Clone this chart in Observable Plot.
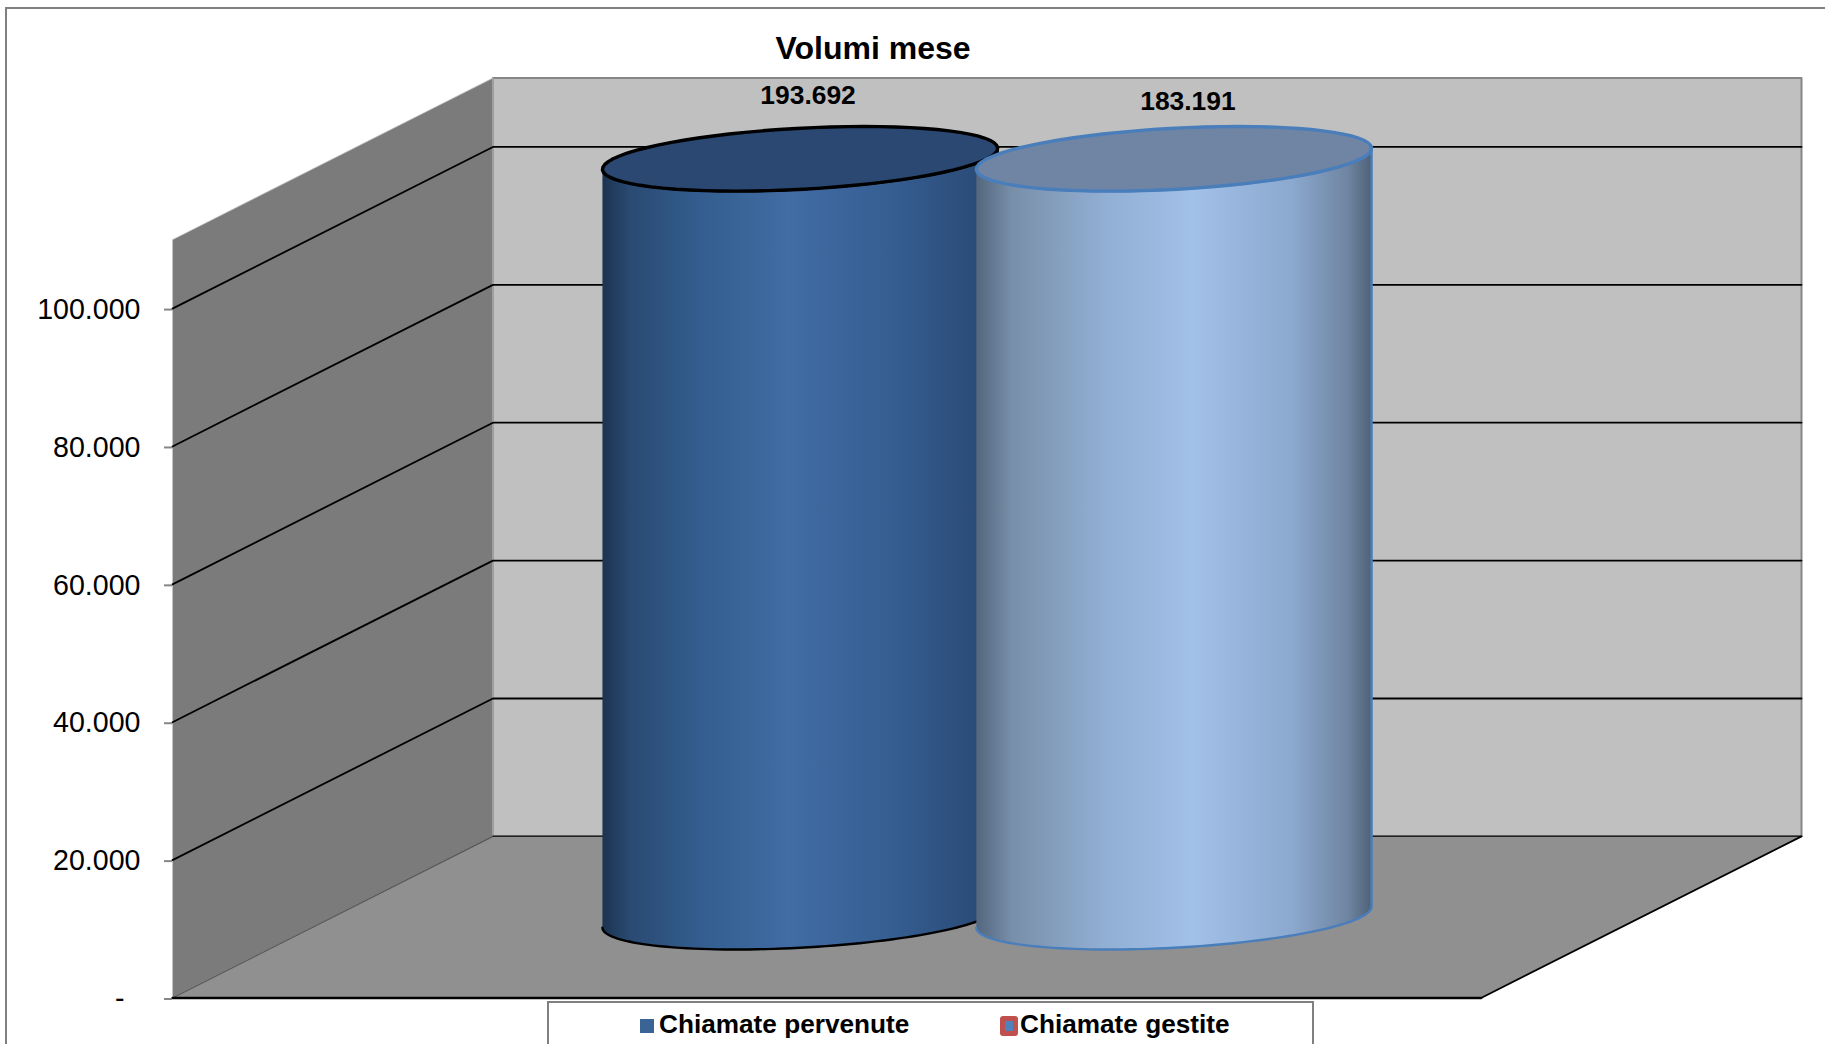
<!DOCTYPE html>
<html lang="it">
<head>
<meta charset="utf-8">
<title>Volumi mese</title>
<script src="https://cdn.jsdelivr.net/npm/d3@7"></script>
<script src="https://cdn.jsdelivr.net/npm/@observablehq/plot@0.6"></script>
<style>
  html, body { margin: 0; padding: 0; background: #fff; overflow: hidden; }
  #chart { position: relative; width: 1825px; height: 1044px; font-family: "Liberation Sans", Arial, sans-serif; color: #000; overflow: hidden; }
  #chart svg { position: absolute; left: 0; top: 0; }
  #frame { position: absolute; left: 5px; top: 7px; width: 1830px; height: 1060px; border: 2px solid #808080; box-sizing: border-box; }
  h1 { position: absolute; left: 0; top: 29px; width: 1746px; margin: 0; text-align: center; font-size: 32px; line-height: 38px; font-weight: bold; }
  #legend { position: absolute; left: 547px; top: 1001px; width: 767px; height: 70px; box-sizing: border-box; border: 2px solid #808080; background: #fff; }
  #legend span { position: absolute; top: 6px; font-size: 26.2px; line-height: 30px; font-weight: bold; white-space: nowrap; }
  #legend i { position: absolute; display: block; box-sizing: border-box; }
</style>
</head>
<body>
<div id="chart">
  <div id="frame"></div>
  <h1 id="chart-title"></h1>
  <div id="legend"></div>
</div>
<script>
const chartTitle = "Volumi mese";
const seriesNames = ["Chiamate pervenute", "Chiamate gestite"];
const seriesValues = [193692, 183191];
const axisTicks = [0, 20000, 40000, 60000, 80000, 100000];
const axisMax = 110000;
const bodyStops = [
  [[0, "#1c3350"], [0.07, "#2a4a72"], [0.25, "#335e8f"], [0.47, "#416ca4"], [0.72, "#365f93"], [1, "#284770"]],
  [[0, "#53677e"], [0.09, "#788fa9"], [0.32, "#91aed3"], [0.55, "#a2c1e8"], [0.8, "#8ba8ce"], [0.94, "#6f85a1"], [1, "#4e6177"]]
];
const topFills = ["#2a4871", "#7085a3"];
const edgeColors = ["#000000", "#4a7ebb"];

// Oblique projection: one bar width across, plus a depth axis sheared up and to the right.
const barsAcross = 3.5;         // two touching cylinders and a 150% gap
const shearX = 0.857;           // bar widths moved per full depth
const shearY = 23446;           // value units moved per full depth
const radiusDepth = 0.2;        // cylinder radius along the depth axis
const radiusX = 0.5;
const project = (c, d, v) => ({x: c + d * shearX, y: v + d * shearY});
const cylinderX = seriesValues.map((_, i) => barsAcross / 2 + (i - 0.5));

const poly = (...pts) => [...pts, pts[0]].map(([c, d, v]) => project(c, d, v));
const tangent = Math.atan2(radiusDepth * shearX, radiusX);
const rim = (cx, v, t) => project(cx + radiusX * Math.cos(t), 0.5 + radiusDepth * Math.sin(t), v);
const sweep = (from, to) => d3.range(73).map((k) => from + (to - from) * k / 72);
const topRing = (cx, v) => sweep(0, 2 * Math.PI).map((t) => rim(cx, v, t));
const bodyOutline = (cx, v) => [
  ...sweep(tangent + Math.PI, tangent + 2 * Math.PI).map((t) => rim(cx, 0, t)),
  ...sweep(tangent + 2 * Math.PI, tangent + Math.PI).map((t) => rim(cx, v, t))
];

const backWall = poly([0, 1, 0], [barsAcross, 1, 0], [barsAcross, 1, axisMax], [0, 1, axisMax]);
const sideWall = poly([0, 0, 0], [0, 1, 0], [0, 1, axisMax], [0, 0, axisMax]);
const floor = poly([0, 0, 0], [barsAcross, 0, 0], [barsAcross, 1, 0], [0, 1, 0]);
const gridRows = axisTicks.filter((v) => v > 0).flatMap((v) => [
  {v, ...project(0, 0, v)}, {v, ...project(0, 1, v)}, {v, ...project(barsAcross, 1, v)}
]);
const seg = (a, b) => [project(...a), project(...b)];

// Horizontal shading for the cylinder bodies.
function gradients() {
  const defs = d3.create("svg:defs");
  bodyStops.forEach((stops, i) => {
    const g = defs.append("linearGradient").attr("id", `body-${i}`).attr("x1", 0).attr("x2", 1).attr("y1", 0).attr("y2", 0);
    stops.forEach(([o, c]) => g.append("stop").attr("offset", o).attr("stop-color", c));
  });
  return defs.node();
}

const cylinderMarks = seriesValues.flatMap((value, i) => {
  const v = Math.min(value, axisMax); // the value axis stops at its maximum and cuts the bar there
  return [
    Plot.line(bodyOutline(cylinderX[i], v), {x: "x", y: "y", fill: `url(#body-${i})`, stroke: edgeColors[i], strokeWidth: 2.4}),
    Plot.line(topRing(cylinderX[i], v), {x: "x", y: "y", fill: topFills[i], stroke: edgeColors[i], strokeWidth: 3.4})
  ];
});

const labelOffsets = [[8, -63], [14, -57]];
const valueLabel = d3.formatLocale({decimal: ",", thousands: ".", grouping: [3], currency: ["", ""]}).format(",d");
const valueMarks = seriesValues.map((value, i) => {
  const p = project(cylinderX[i], 0.5, Math.min(value, axisMax));
  return Plot.text([{...p, value}], {
    x: "x", y: "y", text: (d) => valueLabel(d.value),
    dx: labelOffsets[i][0], dy: labelOffsets[i][1],
    fontSize: 26.4, fontWeight: "bold", fill: "#000"
  });
});

const svg = Plot.plot({
  width: 1825,
  height: 1044,
  marginLeft: 172,
  marginRight: 24,
  marginTop: 77.5,
  marginBottom: 46.5,
  style: {background: "transparent", fontFamily: "'Liberation Sans', Arial, sans-serif", overflow: "visible"},
  x: {domain: [0, barsAcross + shearX], axis: null},
  y: {domain: [0, axisMax + shearY], axis: null},
  marks: [
    gradients,
    Plot.line(backWall, {x: "x", y: "y", fill: "#c0c0c0", stroke: "#868686", strokeWidth: 2}),
    Plot.line(sideWall, {x: "x", y: "y", fill: "#7b7b7b", stroke: "#c8c8c8", strokeWidth: 0.8}),
    Plot.line(floor, {x: "x", y: "y", fill: "#909090", stroke: "none"}),
    Plot.line(gridRows, {x: "x", y: "y", z: "v", stroke: "#000", strokeWidth: 1.8}),
    Plot.line(seg([0, 0, 0], [0, 1, 0]), {x: "x", y: "y", stroke: "#555", strokeWidth: 1.2}),
    Plot.line(seg([0, 1, 0], [barsAcross, 1, 0]), {x: "x", y: "y", stroke: "#222", strokeWidth: 1.5}),
    Plot.line(seg([barsAcross, 1, 0], [barsAcross, 0, 0]), {x: "x", y: "y", stroke: "#000", strokeWidth: 1.8}),
    Plot.line(seg([0, 0, 0], [barsAcross, 0, 0]), {x: "x", y: "y", stroke: "#000", strokeWidth: 2.4}),
    Plot.axisY(axisTicks, {
      anchor: "left",
      tickSize: 8,
      tickPadding: 24,
      stroke: "#868686",
      strokeWidth: 2,
      fontSize: 28.6,
      fill: "#000",
      label: null,
      textAnchor: "end",
      dy: 1,
      // Accounting-style zero: a dash set in from the right edge of the numbers
      tickFormat: (d) => d === 0 ? "-\u00a0\u00a0" : valueLabel(d)
    }),
    ...cylinderMarks,
    ...valueMarks
  ]
});
document.getElementById("chart").prepend(svg);

// Title and legend sit over the plot, inside the outer frame.
document.getElementById("chart-title").textContent = chartTitle;
const legend = document.getElementById("legend");
const legendItems = [
  {left: 110, swatch: {left: 91, top: 16, width: 14, height: 14, background: "#3a6496"}},
  {left: 471, swatch: {left: 451, top: 13, width: 18, height: 20, background: "#4f81bd", border: "5px solid #c0504d", borderRadius: "3px"}}
];
legendItems.forEach((item, i) => {
  const sw = document.createElement("i");
  Object.entries(item.swatch).forEach(([k, v]) => sw.style[k] = typeof v === "number" ? v + "px" : v);
  legend.append(sw);
  const label = document.createElement("span");
  label.style.left = item.left + "px";
  label.textContent = seriesNames[i];
  legend.append(label);
});
</script>
</body>
</html>
